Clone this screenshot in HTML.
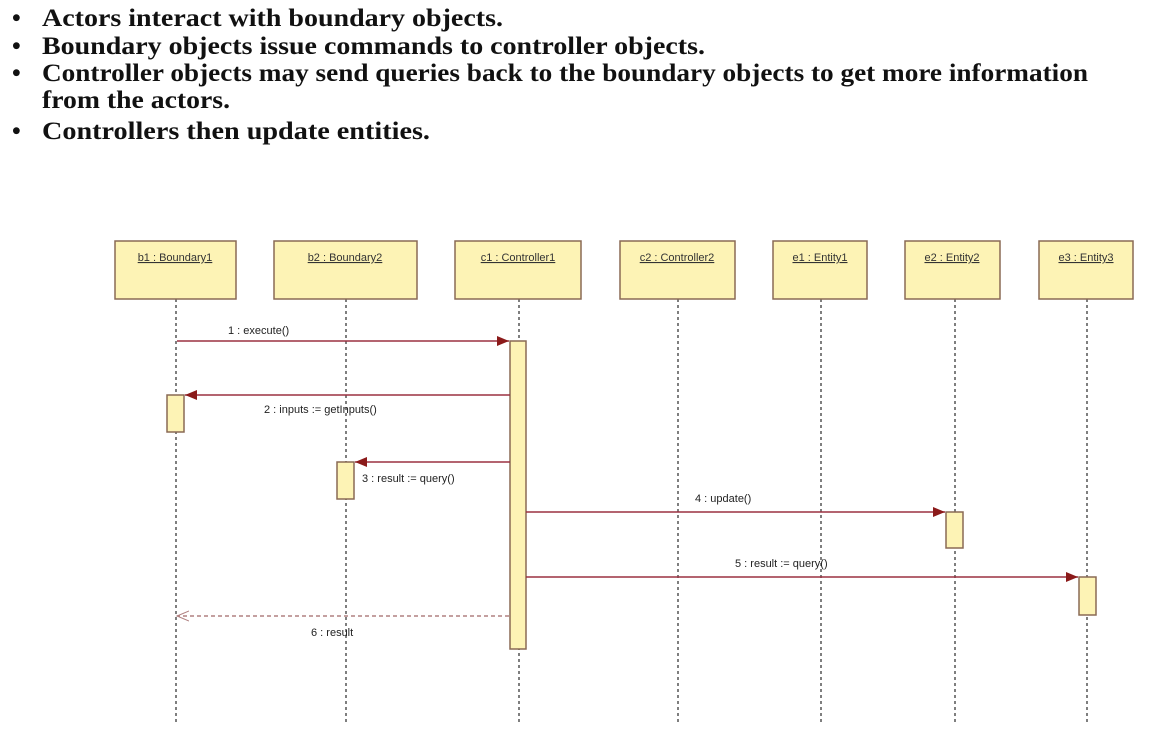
<!DOCTYPE html>
<html><head><meta charset="utf-8"><style>
html,body{margin:0;padding:0;background:#fff;}
svg{display:block}
.t{font-family:"Liberation Serif",serif;font-weight:bold;font-size:25px;fill:#111}
.s{font-family:"Liberation Sans",sans-serif;font-size:11px;fill:#222}
.h{font-family:"Liberation Sans",sans-serif;font-size:11px;fill:#333;text-decoration:underline}
</style></head><body>
<svg width="1160" height="733" viewBox="0 0 1160 733" xmlns="http://www.w3.org/2000/svg">
<defs>
<marker id="a" markerWidth="12" markerHeight="10" refX="12" refY="5" orient="auto" markerUnits="userSpaceOnUse"><path d="M0,0 L12,5 L0,10 Z" fill="#8b1a1a"/></marker>
<marker id="o" markerWidth="13" markerHeight="12" refX="12" refY="6" orient="auto" markerUnits="userSpaceOnUse"><path d="M0,1 L12,6 L0,11" fill="none" stroke="#b08080" stroke-width="1"/></marker>
</defs>
<g class="t">
<text x="12" y="26">•</text><text x="42" y="26" textLength="461" lengthAdjust="spacingAndGlyphs">Actors interact with boundary objects.</text>
<text x="12" y="54">•</text><text x="42" y="54" textLength="663" lengthAdjust="spacingAndGlyphs">Boundary objects issue commands to controller objects.</text>
<text x="12" y="81">•</text><text x="42" y="81" textLength="1046" lengthAdjust="spacingAndGlyphs">Controller objects may send queries back to the boundary objects to get more information</text>
<text x="42" y="108" textLength="188" lengthAdjust="spacingAndGlyphs">from the actors.</text>
<text x="12" y="139">•</text><text x="42" y="139" textLength="388" lengthAdjust="spacingAndGlyphs">Controllers then update entities.</text>
</g>
<g stroke="#555" stroke-width="1.5" stroke-dasharray="3,3">
<line x1="176" y1="299" x2="176" y2="722"/>
<line x1="346" y1="299" x2="346" y2="722"/>
<line x1="519" y1="299" x2="519" y2="722"/>
<line x1="678" y1="299" x2="678" y2="722"/>
<line x1="821" y1="299" x2="821" y2="722"/>
<line x1="955" y1="299" x2="955" y2="722"/>
<line x1="1087" y1="299" x2="1087" y2="722"/>
</g>
<g fill="#fdf3b5" stroke="#8a6a55" stroke-width="1.5">
<rect x="115" y="241" width="121" height="58"/>
<rect x="274" y="241" width="143" height="58"/>
<rect x="455" y="241" width="126" height="58"/>
<rect x="620" y="241" width="115" height="58"/>
<rect x="773" y="241" width="94" height="58"/>
<rect x="905" y="241" width="95" height="58"/>
<rect x="1039" y="241" width="94" height="58"/>
</g>
<g class="h" text-anchor="middle">
<text x="175" y="261">b1 : Boundary1</text>
<text x="345" y="261">b2 : Boundary2</text>
<text x="518" y="261">c1 : Controller1</text>
<text x="677" y="261">c2 : Controller2</text>
<text x="820" y="261">e1 : Entity1</text>
<text x="952" y="261">e2 : Entity2</text>
<text x="1086" y="261">e3 : Entity3</text>
</g>
<g fill="#fdf3b5" stroke="#8a6a55" stroke-width="1.5">
<rect x="510" y="341" width="16" height="308"/>
<rect x="167" y="395" width="17" height="37"/>
<rect x="337" y="462" width="17" height="37"/>
<rect x="946" y="512" width="17" height="36"/>
<rect x="1079" y="577" width="17" height="38"/>
</g>
<g stroke="#9b3040" stroke-width="1.5" fill="none">
<line x1="177" y1="341" x2="509" y2="341" marker-end="url(#a)"/>
<line x1="510" y1="395" x2="185" y2="395" marker-end="url(#a)"/>
<line x1="510" y1="462" x2="355" y2="462" marker-end="url(#a)"/>
<line x1="526" y1="512" x2="945" y2="512" marker-end="url(#a)"/>
<line x1="526" y1="577" x2="1078" y2="577" marker-end="url(#a)"/>
<line x1="509" y1="616" x2="177" y2="616" stroke="#b08080" stroke-dasharray="4,3" marker-end="url(#o)"/>
</g>
<g class="s">
<text x="228" y="334">1 : execute()</text>
<text x="264" y="413">2 : inputs := getInputs()</text>
<text x="362" y="482">3 : result := query()</text>
<text x="695" y="502">4 : update()</text>
<text x="735" y="567">5 : result := query()</text>
<text x="311" y="636">6 : result</text>
</g>
</svg>
</body></html>
